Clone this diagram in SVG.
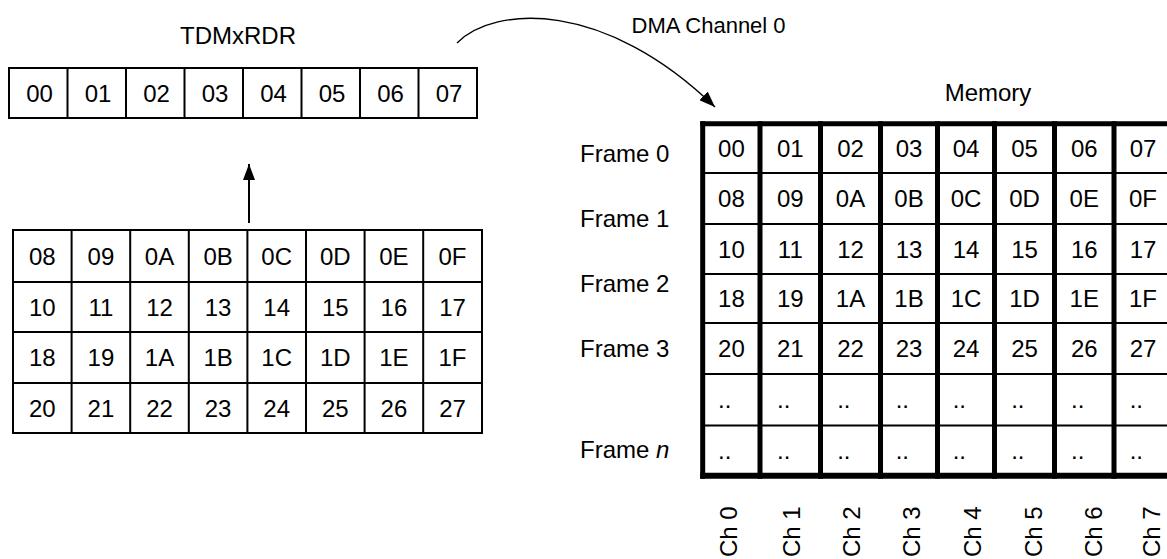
<svg xmlns="http://www.w3.org/2000/svg" width="1167" height="559" viewBox="0 0 1167 559">
  <style>
    text { font-family: "Liberation Sans", Arial, Helvetica, sans-serif; font-size: 24px; fill: #000; }
    .c { text-anchor: middle; }
    .thin { fill: none; stroke: #000; stroke-width: 2; }
    .thick { fill: none; stroke: #000; stroke-width: 5; }
    .conn { fill: none; stroke: #000; }
  </style>
  <defs>
    <marker id="head" markerUnits="userSpaceOnUse" viewBox="0 0 16 12" refX="16" refY="6" markerWidth="16" markerHeight="12" orient="auto">
      <path d="M0,0 L16,6 L0,12 z" fill="#000"/>
    </marker>
  </defs>
  <rect width="1167" height="559" fill="#fff"/>

  <!-- receive data register -->
  <g id="tdmxrdr">
    <text class="c" x="238" y="44">TDMxRDR</text>
    <rect class="thin" x="9" y="68" width="468" height="50"/>
    <path class="thin" d="M67.5,68V118M126,68V118M184.5,68V118M243,68V118M301.5,68V118M360,68V118M418.5,68V118"/>
    <text class="c" x="39.5" y="102">00</text>
    <text class="c" x="98" y="102">01</text>
    <text class="c" x="156.5" y="102">02</text>
    <text class="c" x="215" y="102">03</text>
    <text class="c" x="273.5" y="102">04</text>
    <text class="c" x="332" y="102">05</text>
    <text class="c" x="390.5" y="102">06</text>
    <text class="c" x="449" y="102">07</text>
  </g>

  <!-- incoming data queue -->
  <g id="queue">
    <rect class="thin" x="13" y="230" width="469" height="203"/>
    <path class="thin" d="M13,282H482M13,332H482M13,383H482"/>
    <path class="thin" d="M71.6,230V433M130.2,230V433M188.8,230V433M247.4,230V433M306,230V433M364.6,230V433M423.2,230V433"/>
    <text class="c" x="42.3" y="264.5">08</text>
    <text class="c" x="100.9" y="264.5">09</text>
    <text class="c" x="159.5" y="264.5">0A</text>
    <text class="c" x="218.1" y="264.5">0B</text>
    <text class="c" x="276.7" y="264.5">0C</text>
    <text class="c" x="335.3" y="264.5">0D</text>
    <text class="c" x="393.9" y="264.5">0E</text>
    <text class="c" x="452.5" y="264.5">0F</text>
    <text class="c" x="42.3" y="315.5">10</text>
    <text class="c" x="100.9" y="315.5">11</text>
    <text class="c" x="159.5" y="315.5">12</text>
    <text class="c" x="218.1" y="315.5">13</text>
    <text class="c" x="276.7" y="315.5">14</text>
    <text class="c" x="335.3" y="315.5">15</text>
    <text class="c" x="393.9" y="315.5">16</text>
    <text class="c" x="452.5" y="315.5">17</text>
    <text class="c" x="42.3" y="366">18</text>
    <text class="c" x="100.9" y="366">19</text>
    <text class="c" x="159.5" y="366">1A</text>
    <text class="c" x="218.1" y="366">1B</text>
    <text class="c" x="276.7" y="366">1C</text>
    <text class="c" x="335.3" y="366">1D</text>
    <text class="c" x="393.9" y="366">1E</text>
    <text class="c" x="452.5" y="366">1F</text>
    <text class="c" x="42.3" y="416.5">20</text>
    <text class="c" x="100.9" y="416.5">21</text>
    <text class="c" x="159.5" y="416.5">22</text>
    <text class="c" x="218.1" y="416.5">23</text>
    <text class="c" x="276.7" y="416.5">24</text>
    <text class="c" x="335.3" y="416.5">25</text>
    <text class="c" x="393.9" y="416.5">26</text>
    <text class="c" x="452.5" y="416.5">27</text>
  </g>

  <!-- memory buffer -->
  <g id="memory">
    <text class="c" x="988" y="101">Memory</text>
    <path class="thin" d="M702,173H1167M702,224H1167M702,274H1167M702,323H1167M702,374H1167M702,425.5H1167"/>
    <path class="thick" d="M700.2,123.7H1167"/>
    <path fill="none" stroke="#000" stroke-width="6" d="M700.2,475.7H1167"/>
    <path class="thick" d="M702.7,121.2V478.7M760,121.2V478.7M820.5,121.2V478.7M880.5,121.2V478.7M937.5,121.2V478.7M994.5,121.2V478.7M1054.5,121.2V478.7M1114,121.2V478.7"/>
    <text class="c" x="731.4" y="157">00</text>
    <text class="c" x="790.3" y="157">01</text>
    <text class="c" x="850.5" y="157">02</text>
    <text class="c" x="909" y="157">03</text>
    <text class="c" x="966" y="157">04</text>
    <text class="c" x="1024.5" y="157">05</text>
    <text class="c" x="1084.3" y="157">06</text>
    <text class="c" x="1143" y="157">07</text>
    <text class="c" x="731.4" y="207">08</text>
    <text class="c" x="790.3" y="207">09</text>
    <text class="c" x="850.5" y="207">0A</text>
    <text class="c" x="909" y="207">0B</text>
    <text class="c" x="966" y="207">0C</text>
    <text class="c" x="1024.5" y="207">0D</text>
    <text class="c" x="1084.3" y="207">0E</text>
    <text class="c" x="1143" y="207">0F</text>
    <text class="c" x="731.4" y="257.5">10</text>
    <text class="c" x="790.3" y="257.5">11</text>
    <text class="c" x="850.5" y="257.5">12</text>
    <text class="c" x="909" y="257.5">13</text>
    <text class="c" x="966" y="257.5">14</text>
    <text class="c" x="1024.5" y="257.5">15</text>
    <text class="c" x="1084.3" y="257.5">16</text>
    <text class="c" x="1143" y="257.5">17</text>
    <text class="c" x="731.4" y="307">18</text>
    <text class="c" x="790.3" y="307">19</text>
    <text class="c" x="850.5" y="307">1A</text>
    <text class="c" x="909" y="307">1B</text>
    <text class="c" x="966" y="307">1C</text>
    <text class="c" x="1024.5" y="307">1D</text>
    <text class="c" x="1084.3" y="307">1E</text>
    <text class="c" x="1143" y="307">1F</text>
    <text class="c" x="731.4" y="357">20</text>
    <text class="c" x="790.3" y="357">21</text>
    <text class="c" x="850.5" y="357">22</text>
    <text class="c" x="909" y="357">23</text>
    <text class="c" x="966" y="357">24</text>
    <text class="c" x="1024.5" y="357">25</text>
    <text class="c" x="1084.3" y="357">26</text>
    <text class="c" x="1143" y="357">27</text>
    <text x="718.1" y="408.3">..</text>
    <text x="777" y="408.3">..</text>
    <text x="837.2" y="408.3">..</text>
    <text x="895.7" y="408.3">..</text>
    <text x="952.7" y="408.3">..</text>
    <text x="1011.2" y="408.3">..</text>
    <text x="1071" y="408.3">..</text>
    <text x="1129.7" y="408.3">..</text>
    <text x="718.1" y="459">..</text>
    <text x="777" y="459">..</text>
    <text x="837.2" y="459">..</text>
    <text x="895.7" y="459">..</text>
    <text x="952.7" y="459">..</text>
    <text x="1011.2" y="459">..</text>
    <text x="1071" y="459">..</text>
    <text x="1129.7" y="459">..</text>
  </g>

  <!-- frame row labels -->
  <g id="frame-labels">
    <text x="580" y="162">Frame 0</text>
    <text x="580" y="227">Frame 1</text>
    <text x="580" y="292">Frame 2</text>
    <text x="580" y="357">Frame 3</text>
    <text x="580" y="458">Frame <tspan font-style="italic">n</tspan></text>
  </g>

  <!-- channel column labels -->
  <g id="channel-labels">
    <text transform="translate(737,557) rotate(-90)">Ch 0</text>
    <text transform="translate(800,557) rotate(-90)">Ch 1</text>
    <text transform="translate(860,557) rotate(-90)">Ch 2</text>
    <text transform="translate(920,557) rotate(-90)">Ch 3</text>
    <text transform="translate(981,557) rotate(-90)">Ch 4</text>
    <text transform="translate(1042,557) rotate(-90)">Ch 5</text>
    <text transform="translate(1102,557) rotate(-90)">Ch 6</text>
    <text transform="translate(1160,557) rotate(-90)">Ch 7</text>
  </g>

  <!-- transfer label -->
  <g id="dma-label">
    <text x="631.5" y="33" style="font-size:22px">DMA Channel 0</text>
  </g>

  <!-- connectors -->
  <g id="connectors">
    <path class="conn" stroke-width="2" d="M249,223V164" marker-end="url(#head)"/>
    <path class="conn" stroke-width="1.4" d="M457,43C495,5 605,0 715,107" marker-end="url(#head)"/>
  </g>
</svg>
